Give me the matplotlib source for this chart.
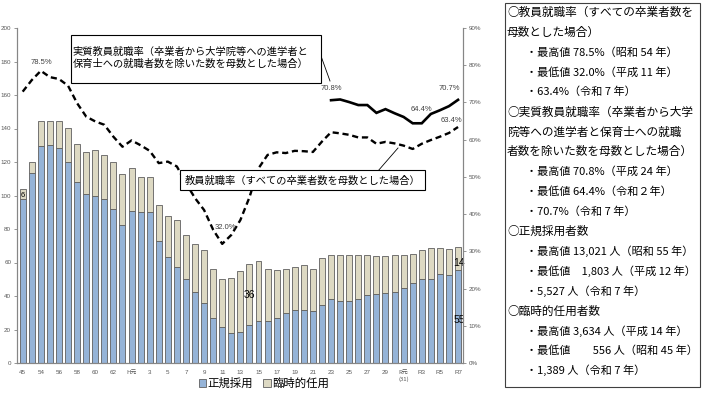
import matplotlib
matplotlib.use('Agg')
import matplotlib.pyplot as plt
from matplotlib.patches import Rectangle, Patch
from matplotlib.lines import Line2D
from matplotlib.ticker import FuncFormatter
import numpy as np

plt.rcParams['font.family'] = ['Noto Sans CJK JP', 'DejaVu Sans']

# ---------------- data ----------------
years = ['S45', 'S53', 'S54', 'S55', 'S56', 'S57', 'S58', 'S59', 'S60', 'S61', 'S62', 'S63',
         'H1', 'H2', 'H3', 'H4', 'H5', 'H6', 'H7', 'H8', 'H9', 'H10', 'H11', 'H12', 'H13',
         'H14', 'H15', 'H16', 'H17', 'H18', 'H19', 'H20', 'H21', 'H22', 'H23', 'H24', 'H25',
         'H26', 'H27', 'H28', 'H29', 'H30', 'R1', 'R2', 'R3', 'R4', 'R5', 'R6', 'R7']

# 正規採用 (hundreds of people)
regular = [98.0, 113.2, 129.7, 130.2, 128.4, 119.8, 108.2, 100.9, 99.5, 97.7, 91.9, 82.4,
           90.7, 90.0, 90.3, 73.0, 63.1, 57.5, 50.1, 42.2, 35.6, 26.9, 21.3, 18.0, 18.8,
           22.6, 25.3, 25.3, 26.9, 29.7, 31.4, 31.6, 30.8, 34.6, 38.2, 37.0, 37.0,
           38.2, 40.4, 41.0, 41.6, 42.2, 45.0, 47.9, 49.9, 50.1, 53.0, 52.6, 55.3]

# 臨時的任用 (hundreds of people)
temporary = [5.6, 6.6, 15.0, 14.5, 16.3, 20.3, 22.7, 25.3, 27.5, 26.7, 27.9, 30.2,
             25.5, 21.2, 20.9, 21.1, 24.9, 27.7, 26.3, 28.7, 31.9, 29.0, 29.0, 32.5, 36.0,
             36.3, 35.6, 30.6, 28.6, 26.2, 26.1, 26.9, 25.3, 27.9, 26.5, 27.7, 27.7,
             26.5, 24.3, 22.9, 22.3, 22.1, 19.5, 17.2, 17.4, 18.4, 15.5, 15.5, 13.9]

# 教員就職率 (%)
rate_all = [72.9, 76.0, 78.5, 76.8, 76.3, 74.5, 69.8, 66.2, 64.9, 64.0, 60.8, 58.1,
            59.8, 58.5, 57.0, 53.7, 54.1, 52.8, 48.3, 44.3, 41.1, 35.8, 32.0, 34.4, 38.4,
            44.5, 52.3, 55.9, 56.6, 56.4, 57.0, 56.9, 56.7, 59.5, 62.0, 61.7, 61.3,
            60.6, 60.6, 58.9, 59.4, 59.0, 58.4, 57.5, 58.9, 59.9, 60.8, 61.8, 63.4]

# 実質教員就職率 (%)
real_years = ['H23', 'H24', 'H25', 'H26', 'H27', 'H28', 'H29', 'H30',
              'R1', 'R2', 'R3', 'R4', 'R5', 'R6', 'R7']
rate_real = [70.6, 70.8, 70.1, 69.3, 69.3, 67.2, 68.2, 67.1,
             66.1, 64.4, 64.4, 66.9, 67.9, 69.0, 70.7]

tick_years = ['S45', 'S54', 'S56', 'S58', 'S60', 'S62', 'H1', 'H3', 'H5', 'H7', 'H9',
              'H11', 'H13', 'H15', 'H17', 'H19', 'H21', 'H23', 'H25', 'H27', 'H29',
              'R1', 'R3', 'R5', 'R7']
tick_texts = ['45', '54', '56', '58', '60', '62', 'H元', '3', '5', '7', '9',
              '11', '13', '15', '17', '19', '21', '23', '25', '27', '29',
              'R元\n(31)', 'R3', 'R5', 'R7']

series_names = ['正規採用', '臨時的任用']
line_names = ['実質教員就職率（卒業者から大学院等への進学者と\n保育士への就職者数を除いた数を母数とした場合）',
              '教員就職率（すべての卒業者数を母数とした場合）']

panel_lines = [
    ('○教員就職率（すべての卒業者数を', 0),
    ('母数とした場合）', 0),
    ('・最高値 78.5%（昭和 54 年）', 1),
    ('・最低値 32.0%（平成 11 年）', 1),
    ('・63.4%（令和 7 年）', 1),
    ('○実質教員就職率（卒業者から大学', 0),
    ('院等への進学者と保育士への就職', 0),
    ('者数を除いた数を母数とした場合）', 0),
    ('・最高値 70.8%（平成 24 年）', 1),
    ('・最低値 64.4%（令和２年）', 1),
    ('・70.7%（令和 7 年）', 1),
    ('○正規採用者数', 0),
    ('・最高値 13,021 人（昭和 55 年）', 1),
    ('・最低値　1,803 人（平成 12 年）', 1),
    ('・5,527 人（令和 7 年）', 1),
    ('○臨時的任用者数', 0),
    ('・最高値 3,634 人（平成 14 年）', 1),
    ('・最低値　　556 人（昭和 45 年）', 1),
    ('・1,389 人（令和 7 年）', 1),
]

# ---------------- figure ----------------
W, H = 710, 396
fig = plt.figure(figsize=(W / 100, H / 100), dpi=100)


def fx(px):
    return px / W


def fy(py):
    return 1 - py / H


L, R, B, T = 16.7, 463.3, 363, 28
ax = fig.add_axes([fx(L), fy(B), fx(R) - fx(L), fy(T) - fy(B)])
x = np.arange(len(years))
blue = '#95B3D7'
beige = '#DDD9C3'
edge = '#5f5f5f'
ax.bar(x, regular, width=0.66, color=blue, edgecolor=edge, linewidth=0.6, zorder=2)
ax.bar(x, temporary, bottom=regular, width=0.66, color=beige, edgecolor=edge,
       linewidth=0.6, zorder=2)
ax.set_xlim(-0.66, len(years) - 0.42)
ax.set_ylim(0, 200)
ax.set_yticks(range(0, 201, 20))

pos = {y: i for i, y in enumerate(years)}
ax.set_xticks([pos[t] for t in tick_years])
ax.set_xticklabels(tick_texts, fontsize=4.5, color='#595959', family='Liberation Sans',
                   linespacing=1.3)
for lab in ax.get_xticklabels():
    if '元' in lab.get_text():
        lab.set_family(['Noto Sans CJK JP'])
        lab.set_fontsize(4.3)
ax.tick_params(axis='x', length=0, pad=5)
ax.tick_params(axis='y', length=2.5, width=0.6, color='#868686', labelsize=4.5,
               labelcolor='#595959', pad=1.5)
for lab in ax.get_yticklabels():
    lab.set_family('Liberation Sans')

ax2 = ax.twinx()
ax2.set_ylim(0, 90)
ax2.set_yticks(range(0, 91, 10))
ax2.yaxis.set_major_formatter(FuncFormatter(lambda v, p: f'{v:.0f}%'))
ax2.tick_params(axis='y', length=2.5, width=0.6, color='#868686', labelsize=4.5,
                labelcolor='#595959', pad=1.5)
for lab in ax2.get_yticklabels():
    lab.set_family('Liberation Sans')

for a in (ax, ax2):
    a.spines['top'].set_visible(False)
    for s in ('left', 'right', 'bottom'):
        a.spines[s].set_color('#868686')
        a.spines[s].set_linewidth(0.8)

ax2.plot(x, rate_all, color='black', linewidth=1.7, linestyle=(0, (2.6, 1.6)),
         zorder=3)
xr = [pos[y] for y in real_years]
ax2.plot(xr, rate_real, color='black', linewidth=1.9, solid_joinstyle='miter', zorder=3)

# value labels on lines
lab_kw = dict(fontsize=5.5, color='#404040', family='Liberation Sans', ha='center',
              va='center', textcoords='offset points')
ax2.annotate('78.5%', (pos['S54'], 78.5), xytext=(0.5, 6.3), **lab_kw)
ax2.annotate('32.0%', (pos['H11'], 32.0), xytext=(2, 12), **lab_kw)
ax2.annotate('70.8%', (pos['H24'], 70.8), xytext=(-6, 8), **lab_kw)
ax2.annotate('64.4%', (pos['R2'], 64.4), xytext=(6.5, 10), **lab_kw)
ax2.annotate('70.7%', (pos['R7'], 70.7), xytext=(-6, 8), **lab_kw)
ax2.annotate('63.4%', (pos['R7'], 63.4), xytext=(-5, 5), **lab_kw)

# bar value labels
bl_kw = dict(fontsize=7.5, color='black', family='Liberation Sans', ha='center',
             va='center', zorder=4)
i14 = pos['H14']
ax.text(i14, regular[i14] + temporary[i14] / 2, f'{temporary[i14]:.0f}', **bl_kw)
i7 = pos['R7']
ax.text(i7 + 0.1, regular[i7] + temporary[i7] / 2 - 2.5, f'{temporary[i7]:.0f}', **bl_kw)
ax.text(i7 + 0.1, regular[i7] / 2 - 2, f'{regular[i7]:.0f}', **bl_kw)
i0 = pos['S45']
ax.text(i0, regular[i0] + temporary[i0] / 2 - 1, f'{temporary[i0]:.0f}',
        fontsize=5.5, color='black', family='Liberation Sans', ha='center', va='center',
        zorder=4)

# annotation boxes
fig.patches.append(Rectangle((fx(70.7), fy(82.7)), fx(320.7) - fx(70.7), fy(35) - fy(82.7),
                             transform=fig.transFigure, facecolor='white',
                             edgecolor='black', linewidth=0.8, zorder=5))
l1, l2 = line_names[0].split('\n')
fig.text(fx(72.5), fy(51.5), l1, fontsize=7.4, ha='left', va='center', zorder=6)
fig.text(fx(72.5), fy(63.5), l2, fontsize=7.4, ha='left', va='center', zorder=6)
fig.lines.append(Line2D([fx(321.7), fx(330)], [fy(58), fy(81)], transform=fig.transFigure,
                        color='black', linewidth=0.6, zorder=5))

fig.patches.append(Rectangle((fx(180), fy(190)), fx(425) - fx(180), fy(170) - fy(190),
                             transform=fig.transFigure, facecolor='white',
                             edgecolor='black', linewidth=0.8, zorder=5))
fig.text(fx(302.5), fy(180.5), line_names[1], fontsize=7.4, ha='center', va='center',
         zorder=6)
fig.lines.append(Line2D([fx(378), fx(398)], [fy(171), fy(148)], transform=fig.transFigure,
                        color='black', linewidth=0.6, zorder=5))

# legend
handles = [Patch(facecolor=blue, edgecolor=edge, linewidth=0.6),
           Patch(facecolor=beige, edgecolor=edge, linewidth=0.6)]
fig.legend(handles, series_names, loc='center', bbox_to_anchor=(fx(264), fy(383.5)),
           ncol=2, frameon=False, fontsize=8.2, handlelength=0.65, handleheight=0.65,
           handletextpad=0.15, columnspacing=0.9, borderpad=0)

# right panel
fig.patches.append(Rectangle((fx(505), fy(387)), fx(700) - fx(505), fy(3) - fy(387),
                             transform=fig.transFigure, facecolor='white',
                             edgecolor='#404040', linewidth=0.8, zorder=1))
for i, (txt, ind) in enumerate(panel_lines):
    xx = 507 if ind == 0 else 526
    fs = 8.4 if ind == 0 else 8.0
    fig.text(fx(xx), fy(12.5 + i * 19.9), txt, fontsize=fs, ha='left', va='center',
             zorder=2)

fig.savefig('out.png', dpi=100)
